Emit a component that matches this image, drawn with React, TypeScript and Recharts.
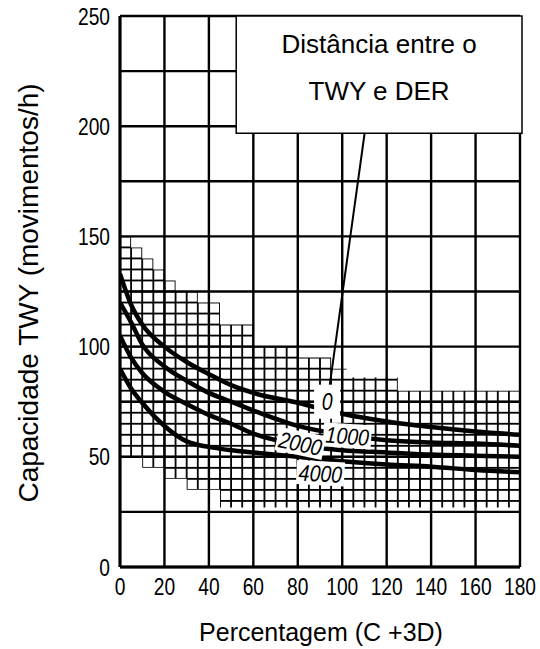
import React from 'react';
import {
  ComposedChart, Line, Area, XAxis, YAxis, CartesianGrid,
  ReferenceArea, ReferenceLine, ReferenceDot,
} from 'recharts';

// axes
const xTicks = [0, 20, 40, 60, 80, 100, 120, 140, 160, 180];
const yTicks = [0, 25, 50, 75, 100, 125, 150, 175, 200, 225, 250];

// the four capacity curves (distance TWY - DER)
const curveX = [0, 5, 10, 20, 30, 40, 50, 60, 80, 100, 120, 140, 160, 180];
const curve0 = [133, 119, 110, 100, 93, 87.5, 82.5, 79, 74.5, 69.5, 66, 63.5, 61.5, 60];
const curve1000 = [120, 111, 101, 91, 84.5, 79, 75, 71, 64, 60, 57.5, 56.5, 56, 55];
const curve2000 = [105, 95, 88, 79.5, 74, 69, 65, 60.5, 55.5, 53, 52, 51, 50.5, 50];
const curve4000 = [90, 81, 74.5, 64, 57, 54.5, 53, 52, 50, 48, 46.5, 45.5, 44, 43];

// fine-grid (hatched) zone, stepped edges
const hatchX = [0, 5, 10, 15, 20, 25, 30, 35, 45, 60, 80, 95, 102, 125, 180];
const hatchTop = [150, 145, 140, 135, 130, 125, 125, 120, 110, 100, 95, 90, 86, 80, 80];
const hatchBottom = [50, 50, 45, 45, 40, 40, 35, 35, 27, 27, 27, 27, 27, 27, 27];

// curve tags
const tagText = ['0', '1000', '2000', '4000'];
const tagX = [93.2, 102.3, 81.2, 90.2];
const tagY = [75, 59.5, 56.1, 42.5];
const tagAngle = [0, 4, 12, 3];

// legend box + leader line
const boxX = [52.3, 180.9];
const boxY = [196.8, 250];
const boxLines = ['Distância entre o', 'TWY e DER'];
const leader = [{ x: 110.1, y: 197 }, { x: 94.4, y: 82.6 }];

const curveData = curveX.map((x, i) => ({
  x, c0: curve0[i], c1000: curve1000[i], c2000: curve2000[i], c4000: curve4000[i],
}));
const hatchData = hatchX.map((x, i) => ({ x, band: [hatchBottom[i], hatchTop[i]] }));

const W = 540;
const H = 649;
const LEFT = 120;
const TOP = 16;
const PLOT_W = 400;
const PLOT_H = 551;
const cellW = PLOT_W / 36; // 5 units
const cellH = PLOT_H / 50; // 5 units

const textFont = "'Liberation Sans', Arial, sans-serif";

// narrow, tall digits like the scanned original
const NarrowTick = (props: any) => {
  const { x, y, payload, axis } = props;
  const v = payload.value;
  if (axis === 'y' && v % 50 !== 0) return null;
  return (
    <text
      transform={`translate(${x},${y}) scale(0.8,1)`}
      textAnchor={axis === 'y' ? 'end' : 'middle'}
      dy={axis === 'y' ? '0.36em' : '0.72em'}
      fontFamily={textFont}
      fontSize={24}
      fill="#000"
    >
      {v}
    </text>
  );
};

const Tag = (props: any) => {
  const { cx, cy, idx } = props;
  const t = tagText[idx];
  const w = t.length === 1 ? 26 : 48;
  const h = t.length === 1 ? 34 : 24;
  return (
    <g transform={`translate(${cx},${cy}) rotate(${tagAngle[idx]})`}>
      <rect x={-w / 2} y={-h / 2} width={w} height={h} fill="#fff" />
      <text
        transform="scale(0.85,1)"
        x={0}
        y={0}
        dy="0.36em"
        textAnchor="middle"
        fontFamily={textFont}
        fontStyle="italic"
        fontSize={23}
        fill="#000"
      >
        {t}
      </text>
    </g>
  );
};

export default function App() {
  return (
    <div style={{ position: 'absolute', left: 0, top: 0, width: W, height: H, background: '#fff' }}>
      <ComposedChart width={W} height={H} margin={{ top: TOP, right: 20, bottom: 0, left: 0 }}>
        <defs>
          <pattern
            id="fineGrid"
            patternUnits="userSpaceOnUse"
            x={LEFT - cellW / 2}
            y={TOP - cellH / 2}
            width={cellW}
            height={cellH}
          >
            <line x1={cellW / 2} y1={0} x2={cellW / 2} y2={cellH} stroke="#000" strokeWidth={1.8} />
            <line x1={0} y1={cellH / 2} x2={cellW} y2={cellH / 2} stroke="#000" strokeWidth={1.8} />
          </pattern>
        </defs>
        <CartesianGrid stroke="#000" strokeWidth={2.4} />
        <XAxis
          type="number"
          dataKey="x"
          domain={[0, 180]}
          ticks={xTicks}
          height={82}
          tickSize={0}
          tickMargin={11}
          tickLine={false}
          axisLine={{ stroke: '#000', strokeWidth: 3 }}
          tick={(p: any) => <NarrowTick {...p} axis="x" />}
          allowDataOverflow
          label={{
            content: () => (
              <text x={321} y={641} textAnchor="middle" fontFamily={textFont} fontSize={25} fill="#000">
                Percentagem (C +3D)
              </text>
            ),
          }}
        />
        <YAxis
          type="number"
          domain={[0, 250]}
          ticks={yTicks}
          width={LEFT}
          tickSize={0}
          tickMargin={10}
          tickLine={false}
          axisLine={{ stroke: '#000', strokeWidth: 3 }}
          tick={(p: any) => <NarrowTick {...p} axis="y" />}
          allowDataOverflow
          label={{
            content: () => (
              <text
                x={28}
                y={293}
                transform="rotate(-90 28 293)"
                textAnchor="middle"
                dominantBaseline="central"
                fontFamily={textFont}
                fontSize={28}
                fill="#000"
              >
                Capacidade TWY (movimentos/h)
              </text>
            ),
          }}
        />
        <Area
          data={hatchData}
          dataKey="band"
          type="stepAfter"
          fill="url(#fineGrid)"
          fillOpacity={1}
          stroke="none"
          isAnimationActive={false}
        />
        {['c0', 'c1000', 'c2000', 'c4000'].map((k) => (
          <Line
            key={k}
            data={curveData}
            dataKey={k}
            type="monotone"
            stroke="#000"
            strokeWidth={4.5}
            dot={false}
            isAnimationActive={false}
          />
        ))}
        <ReferenceLine segment={leader} stroke="#000" strokeWidth={2} ifOverflow="visible" />
        {tagText.map((t, i) => (
          <ReferenceDot
            key={t}
            x={tagX[i]}
            y={tagY[i]}
            r={1}
            ifOverflow="visible"
            shape={(p: any) => <Tag {...p} idx={i} />}
          />
        ))}
        <ReferenceArea
          x1={boxX[0]}
          x2={boxX[1]}
          y1={boxY[0]}
          y2={boxY[1]}
          fill="#fff"
          fillOpacity={1}
          stroke="#000"
          strokeWidth={1.5}
          ifOverflow="visible"
          label={{
            content: (p: any) => {
              const vb = p.viewBox || {};
              const cx = vb.x + vb.width / 2;
              return (
                <g fontFamily={textFont} fontSize={26} fill="#000" textAnchor="middle">
                  <text x={cx} y={vb.y + 37}>{boxLines[0]}</text>
                  <text x={cx} y={vb.y + 84}>{boxLines[1]}</text>
                </g>
              );
            },
          }}
        />
      </ComposedChart>
    </div>
  );
}
